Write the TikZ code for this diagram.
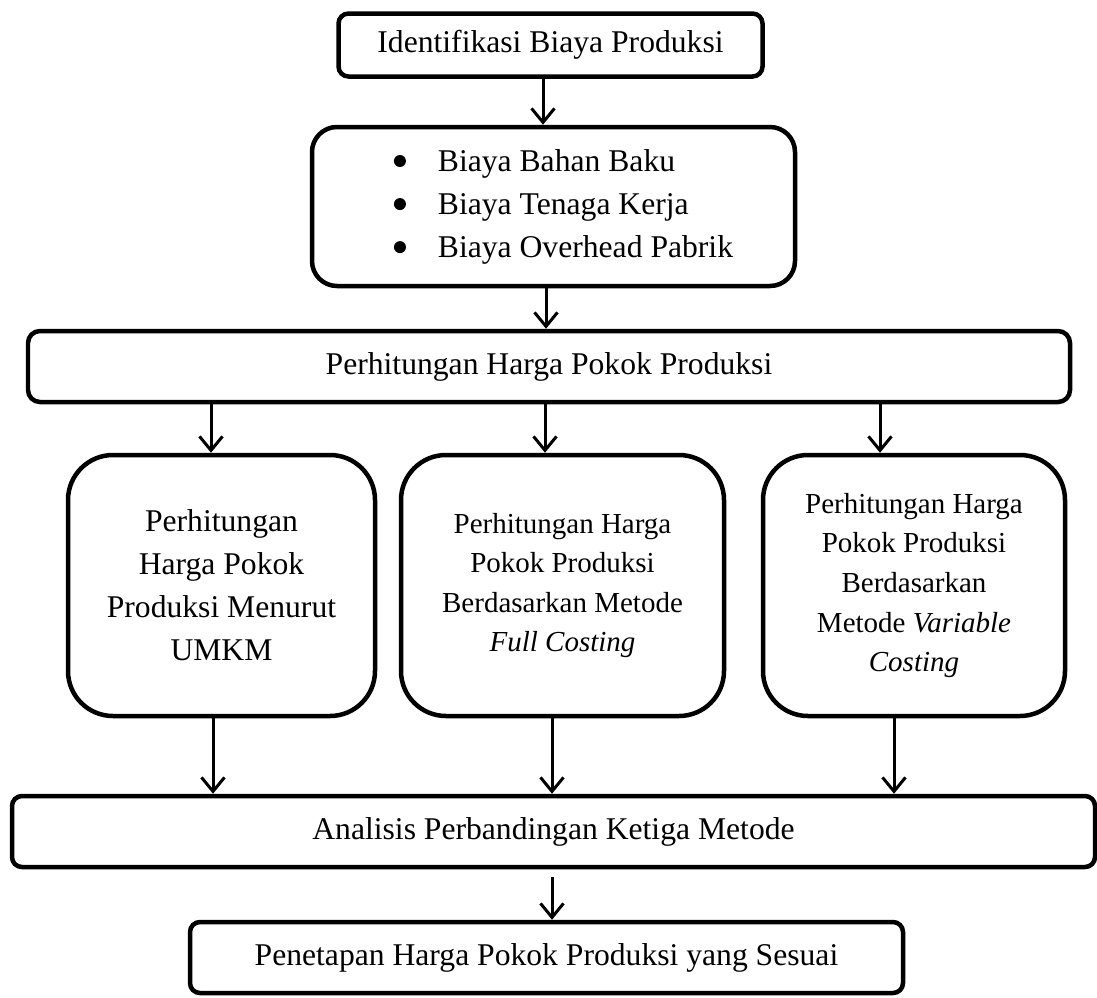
\documentclass[tikz,border=0pt]{standalone}
\usepackage{fontspec}
\setmainfont{Liberation Serif}
\usepackage{tikz}
\usetikzlibrary{arrows.meta}
\tikzset{
  kotak/.style={draw, line width=0.09cm, rounded corners=#1, inner sep=0pt, align=center, font=\fontsize{18}{24.5}\selectfont},
  kotak/.default=0.2cm,
  kecil/.style={font=\fontsize{16.5}{22.5}\selectfont},
  panah/.style={line width=0.06cm, -{Straight Barb[length=0.28cm,width=0.46cm]}}
}
\newcommand{\butir}{\makebox[1.28cm][l]{\hspace{0.4cm}\tikz[baseline={(0,-0.2cm)}]\fill (0,0) circle (0.12cm);}}

\begin{document}
\begin{tikzpicture}
    % parametri
    \pgfmathsetmacro{\ybaris}{-11.71}
    \pgfmathsetmacro{\tbaris}{5.22}
    \useasboundingbox (0,0) rectangle (21.94,-19.94);
    % identifikasi
    \node[kotak, minimum width=8.48cm, minimum height=1.26cm] (identifikasi) at (11.01,-0.90) {Identifikasi Biaya Produksi};
    % komponen biaya
    \node[kotak=0.5cm, align=left, minimum width=9.66cm, minimum height=3.18cm] (biaya) at (11.07,-4.13)
        {\butir Biaya Bahan Baku\\ \butir Biaya Tenaga Kerja\\ \butir Biaya Overhead Pabrik};
    % harga pokok produksi
    \node[kotak=0.24cm, minimum width=20.84cm, minimum height=1.42cm] (hpp) at (10.98,-7.33) {Perhitungan Harga Pokok Produksi};
    % tiga metode
    \node[kotak=0.9cm, minimum width=6.14cm, minimum height=\tbaris cm] (umkm) at (4.43,\ybaris)
        {Perhitungan\\Harga Pokok\\Produksi Menurut\\UMKM};
    \node[kotak=0.9cm, kecil, minimum width=6.46cm, minimum height=\tbaris cm] (full) at (11.25,\ybaris)
        {Perhitungan Harga\\Pokok Produksi\\Berdasarkan Metode\\\textit{Full Costing}};
    \node[kotak=0.9cm, kecil, minimum width=6.04cm, minimum height=\tbaris cm] (variable) at (18.28,\ybaris)
        {Perhitungan Harga\\Pokok Produksi\\Berdasarkan\\Metode \textit{Variable}\\\textit{Costing}};
    % analisis
    \node[kotak, minimum width=21.66cm, minimum height=1.42cm] (analisis) at (11.07,-16.63) {Analisis Perbandingan Ketiga Metode};
    % penetapan
    \node[kotak, minimum width=14.26cm, minimum height=1.42cm] (penetapan) at (10.93,-19.15) {Penetapan Harga Pokok Produksi yang Sesuai};
    % panah
    \draw[panah] ([xshift=-0.15cm]identifikasi.south) -- ([xshift=-0.15cm]identifikasi.south |- biaya.north);
    \draw[panah] ([xshift=-0.15cm]biaya.south) -- ([xshift=-0.15cm]biaya.south |- hpp.north);
    \draw[panah] ([xshift=-0.21cm]umkm.north |- hpp.south) -- ([xshift=-0.21cm]umkm.north);
    \draw[panah] ([xshift=-0.35cm]full.north |- hpp.south) -- ([xshift=-0.35cm]full.north);
    \draw[panah] ([xshift=-0.68cm]variable.north |- hpp.south) -- ([xshift=-0.68cm]variable.north);
    \draw[panah] ([xshift=-0.17cm]umkm.south) -- ([xshift=-0.17cm]umkm.south |- analisis.north);
    \draw[panah] ([xshift=-0.21cm]full.south) -- ([xshift=-0.21cm]full.south |- analisis.north);
    \draw[panah] ([xshift=-0.40cm]variable.south) -- ([xshift=-0.40cm]variable.south |- analisis.north);
    \draw[panah, shorten <=0.16cm] ([xshift=0.11cm]penetapan.north |- analisis.south) -- ([xshift=0.11cm]penetapan.north);
\end{tikzpicture}
\end{document}
